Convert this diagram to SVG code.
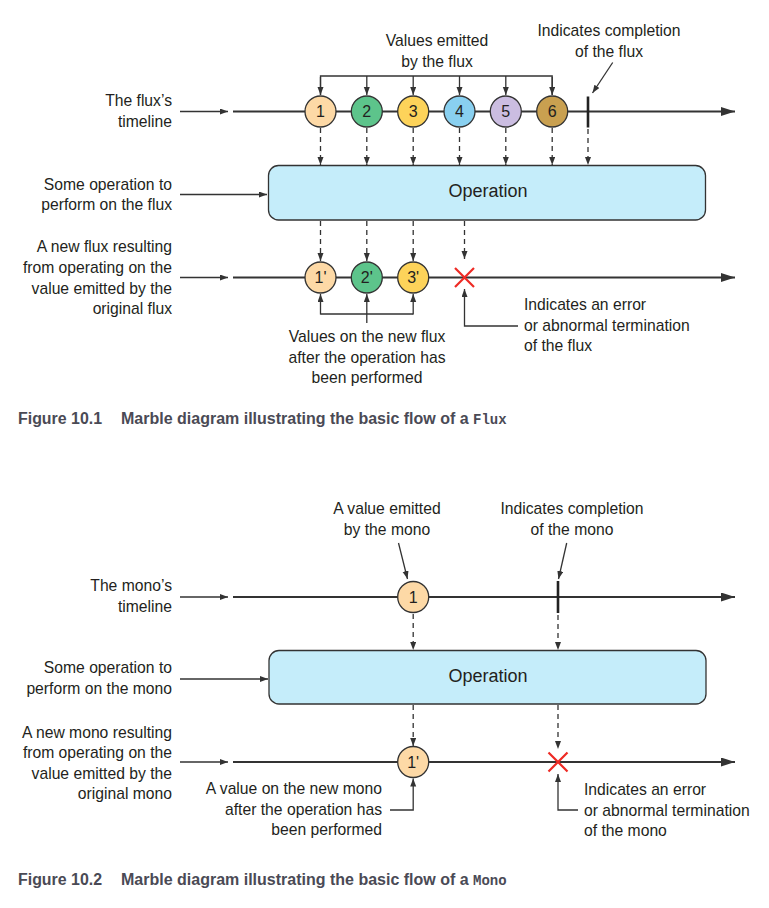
<svg xmlns="http://www.w3.org/2000/svg" width="769" height="908" viewBox="0 0 769 908">
<style>
text{font-family:"Liberation Sans",Arial,sans-serif;font-size:15.7px;fill:#231f20}
.r{text-anchor:end}.c{text-anchor:middle}
.ln{stroke:#333;stroke-width:1.3;fill:none}
.tl{stroke:#333;stroke-width:2;fill:none}
.ds{stroke:#333;stroke-width:1.3;fill:none;stroke-dasharray:5 4}
.mb{stroke:#333;stroke-width:1.3}
.mt{font-size:16px;text-anchor:middle}
.box{fill:#c5edfa;stroke:#333;stroke-width:1.3}
.op{font-size:18px;text-anchor:middle}
.tick{stroke:#222;stroke-width:2.6}
.err{stroke:#ee2a24;stroke-width:2.2}
text.cap{font-family:"Liberation Sans",Arial,sans-serif;font-weight:bold;font-size:16px;fill:#4a4a55}
.capm{font-family:"Liberation Mono","Courier New",monospace;font-weight:bold;font-size:14px;fill:#4a4a55}
</style>
<defs>
<marker id="ah" markerUnits="userSpaceOnUse" markerWidth="9" markerHeight="7" refX="8" refY="3" orient="auto"><path d="M0,0 L8,3 L0,6 z" fill="#333"/></marker>
<marker id="big" markerUnits="userSpaceOnUse" markerWidth="15" markerHeight="10" refX="14" refY="4.5" orient="auto"><path d="M0,0 L14,4.5 L0,9 z" fill="#333"/></marker>
</defs>

<g id="connectors">
<line class="ln" x1="180" y1="111.5" x2="228" y2="111.5" marker-end="url(#ah)"/>
<line class="ln" x1="180" y1="194.5" x2="267" y2="194.5" marker-end="url(#ah)"/>
<line class="ln" x1="180" y1="277.5" x2="228" y2="277.5" marker-end="url(#ah)"/>
<line class="tl" x1="233" y1="111.5" x2="735" y2="111.5" marker-end="url(#big)"/>
<line class="tl" x1="233" y1="277.5" x2="735" y2="277.5" marker-end="url(#big)"/>
<path class="ln" d="M320.5,95 V76 H552.2 V95"/>
<line class="ln" x1="320.5" y1="77" x2="320.5" y2="95" marker-end="url(#ah)"/>
<line class="ln" x1="366.8" y1="76" x2="366.8" y2="95" marker-end="url(#ah)"/>
<line class="ln" x1="413.2" y1="76" x2="413.2" y2="95" marker-end="url(#ah)"/>
<line class="ln" x1="459.5" y1="76" x2="459.5" y2="95" marker-end="url(#ah)"/>
<line class="ln" x1="505.8" y1="76" x2="505.8" y2="95" marker-end="url(#ah)"/>
<line class="ln" x1="552.2" y1="77" x2="552.2" y2="95" marker-end="url(#ah)"/>
<line class="ln" x1="612.7" y1="62.5" x2="592.5" y2="93" marker-end="url(#ah)"/>
<line class="ds" x1="320.5" y1="128" x2="320.5" y2="165" marker-end="url(#ah)"/>
<line class="ds" x1="366.8" y1="128" x2="366.8" y2="165" marker-end="url(#ah)"/>
<line class="ds" x1="413.2" y1="128" x2="413.2" y2="165" marker-end="url(#ah)"/>
<line class="ds" x1="459.5" y1="128" x2="459.5" y2="165" marker-end="url(#ah)"/>
<line class="ds" x1="505.8" y1="128" x2="505.8" y2="165" marker-end="url(#ah)"/>
<line class="ds" x1="552.2" y1="128" x2="552.2" y2="165" marker-end="url(#ah)"/>
<line class="ds" x1="588" y1="129" x2="588" y2="165" marker-end="url(#ah)"/>
<line class="ds" x1="320.5" y1="221" x2="320.5" y2="261" marker-end="url(#ah)"/>
<line class="ds" x1="366.8" y1="221" x2="366.8" y2="261" marker-end="url(#ah)"/>
<line class="ds" x1="413.2" y1="221" x2="413.2" y2="261" marker-end="url(#ah)"/>
<line class="ds" x1="464.5" y1="221" x2="464.5" y2="259" marker-end="url(#ah)"/>
<path class="ln" d="M320.5,314 H413.2 M366.8,314 V323"/>
<line class="ln" x1="320.5" y1="314.5" x2="320.5" y2="294" marker-end="url(#ah)"/>
<line class="ln" x1="366.8" y1="314" x2="366.8" y2="294" marker-end="url(#ah)"/>
<line class="ln" x1="413.2" y1="314.5" x2="413.2" y2="294" marker-end="url(#ah)"/>
<path class="ln" d="M518,326 H464.5 V289" marker-end="url(#ah)"/>

<line class="ln" x1="180" y1="597" x2="228" y2="597" marker-end="url(#ah)"/>
<line class="ln" x1="180" y1="679" x2="268" y2="679" marker-end="url(#ah)"/>
<line class="ln" x1="180" y1="762" x2="228" y2="762" marker-end="url(#ah)"/>
<line class="tl" x1="233" y1="597" x2="735" y2="597" marker-end="url(#big)"/>
<line class="tl" x1="233" y1="762" x2="735" y2="762" marker-end="url(#big)"/>
<line class="ln" x1="398.5" y1="543" x2="407.5" y2="579" marker-end="url(#ah)"/>
<line class="ln" x1="566.7" y1="543" x2="558.5" y2="579" marker-end="url(#ah)"/>
<line class="ds" x1="413.2" y1="614" x2="413.2" y2="650" marker-end="url(#ah)"/>
<line class="ds" x1="558" y1="615" x2="558" y2="650" marker-end="url(#ah)"/>
<line class="ds" x1="413.2" y1="705" x2="413.2" y2="746" marker-end="url(#ah)"/>
<line class="ds" x1="558" y1="705" x2="558" y2="749" marker-end="url(#ah)"/>
<path class="ln" d="M390,810 H413.2 V778.5" marker-end="url(#ah)"/>
<path class="ln" d="M578,810 H558 V774" marker-end="url(#ah)"/>
</g>

<g id="lbl-values-emitted"><text class="c" x="437" y="46">Values emitted</text><text class="c" x="437" y="67">by the flux</text></g>
<g id="lbl-flux-completion"><text class="c" x="609" y="36">Indicates completion</text><text class="c" x="609" y="57">of the flux</text></g>
<g id="lbl-flux-timeline"><text class="r" x="172" y="106">The flux’s</text><text class="r" x="172" y="127">timeline</text></g>
<g id="lbl-flux-operation"><text class="r" x="172" y="190">Some operation to</text><text class="r" x="172" y="210">perform on the flux</text></g>
<g id="lbl-new-flux"><text class="r" x="172" y="252">A new flux resulting</text><text class="r" x="172" y="273">from operating on the</text><text class="r" x="172" y="294">value emitted by the</text><text class="r" x="172" y="314">original flux</text></g>
<g id="lbl-new-values"><text class="c" x="367" y="342">Values on the new flux</text><text class="c" x="367" y="363">after the operation has</text><text class="c" x="367" y="383">been performed</text></g>
<g id="lbl-flux-error"><text x="524" y="310">Indicates an error</text><text x="524" y="331">or abnormal termination</text><text x="524" y="351">of the flux</text></g>

<g id="flux-tick"><line class="tick" x1="588" y1="96.5" x2="588" y2="127.5"/></g>
<g id="m1"><circle class="mb" cx="320.5" cy="111.5" r="15.5" fill="#fdd9a6"/><text class="mt" x="320.5" y="117">1</text></g>
<g id="m2"><circle class="mb" cx="366.8" cy="111.5" r="15.5" fill="#5dc48b"/><text class="mt" x="366.8" y="117">2</text></g>
<g id="m3"><circle class="mb" cx="413.2" cy="111.5" r="15.5" fill="#fdd35a"/><text class="mt" x="413.2" y="117">3</text></g>
<g id="m4"><circle class="mb" cx="459.5" cy="111.5" r="15.5" fill="#89d0f0"/><text class="mt" x="459.5" y="117">4</text></g>
<g id="m5"><circle class="mb" cx="505.8" cy="111.5" r="15.5" fill="#cbbde1"/><text class="mt" x="505.8" y="117">5</text></g>
<g id="m6"><circle class="mb" cx="552.2" cy="111.5" r="15.5" fill="#c9a050"/><text class="mt" x="552.2" y="117">6</text></g>

<g id="flux-operation"><rect class="box" x="268.5" y="165.5" width="437" height="54.5" rx="10"/><text class="op" x="488" y="197">Operation</text></g>

<g id="n1"><circle class="mb" cx="320.5" cy="277.5" r="15.5" fill="#fdd9a6"/><text class="mt" x="320.5" y="283">1'</text></g>
<g id="n2"><circle class="mb" cx="366.8" cy="277.5" r="15.5" fill="#5dc48b"/><text class="mt" x="366.8" y="283">2'</text></g>
<g id="n3"><circle class="mb" cx="413.2" cy="277.5" r="15.5" fill="#fdd35a"/><text class="mt" x="413.2" y="283">3'</text></g>
<g id="flux-error"><path class="err" d="M455,268 L474,287 M474,268 L455,287"/></g>

<g id="caption1"><text class="cap" x="18" y="424" textLength="84" lengthAdjust="spacingAndGlyphs">Figure 10.1</text><text class="cap" x="121" y="424">Marble diagram illustrating the basic flow of a <tspan class="capm">Flux</tspan></text></g>

<g id="lbl-value-emitted"><text class="c" x="387" y="514">A value emitted</text><text class="c" x="387" y="535">by the mono</text></g>
<g id="lbl-mono-completion"><text class="c" x="572" y="514">Indicates completion</text><text class="c" x="572" y="535">of the mono</text></g>
<g id="lbl-mono-timeline"><text class="r" x="172" y="591">The mono’s</text><text class="r" x="172" y="612">timeline</text></g>
<g id="lbl-mono-operation"><text class="r" x="172" y="673">Some operation to</text><text class="r" x="172" y="694">perform on the mono</text></g>
<g id="lbl-new-mono"><text class="r" x="172" y="738">A new mono resulting</text><text class="r" x="172" y="758">from operating on the</text><text class="r" x="172" y="779">value emitted by the</text><text class="r" x="172" y="799">original mono</text></g>
<g id="lbl-new-value"><text class="r" x="382" y="794">A value on the new mono</text><text class="r" x="382" y="815">after the operation has</text><text class="r" x="382" y="835">been performed</text></g>
<g id="lbl-mono-error"><text x="584" y="795">Indicates an error</text><text x="584" y="816">or abnormal termination</text><text x="584" y="836">of the mono</text></g>

<g id="mono-tick"><line class="tick" x1="558" y1="581" x2="558" y2="613"/></g>
<g id="mono1"><circle class="mb" cx="413.2" cy="597" r="15.5" fill="#fdd9a6"/><text class="mt" x="413.2" y="602.5">1</text></g>
<g id="mono-operation"><rect class="box" x="269" y="650.5" width="437" height="53.5" rx="10"/><text class="op" x="488" y="682">Operation</text></g>
<g id="mono1n"><circle class="mb" cx="413.2" cy="762" r="15.5" fill="#fdd9a6"/><text class="mt" x="413.2" y="767.5">1'</text></g>
<g id="mono-error"><path class="err" d="M548.5,752.5 L567.5,771.5 M567.5,752.5 L548.5,771.5"/></g>

<g id="caption2"><text class="cap" x="18" y="885" textLength="84" lengthAdjust="spacingAndGlyphs">Figure 10.2</text><text class="cap" x="121" y="885">Marble diagram illustrating the basic flow of a <tspan class="capm">Mono</tspan></text></g>
</svg>
